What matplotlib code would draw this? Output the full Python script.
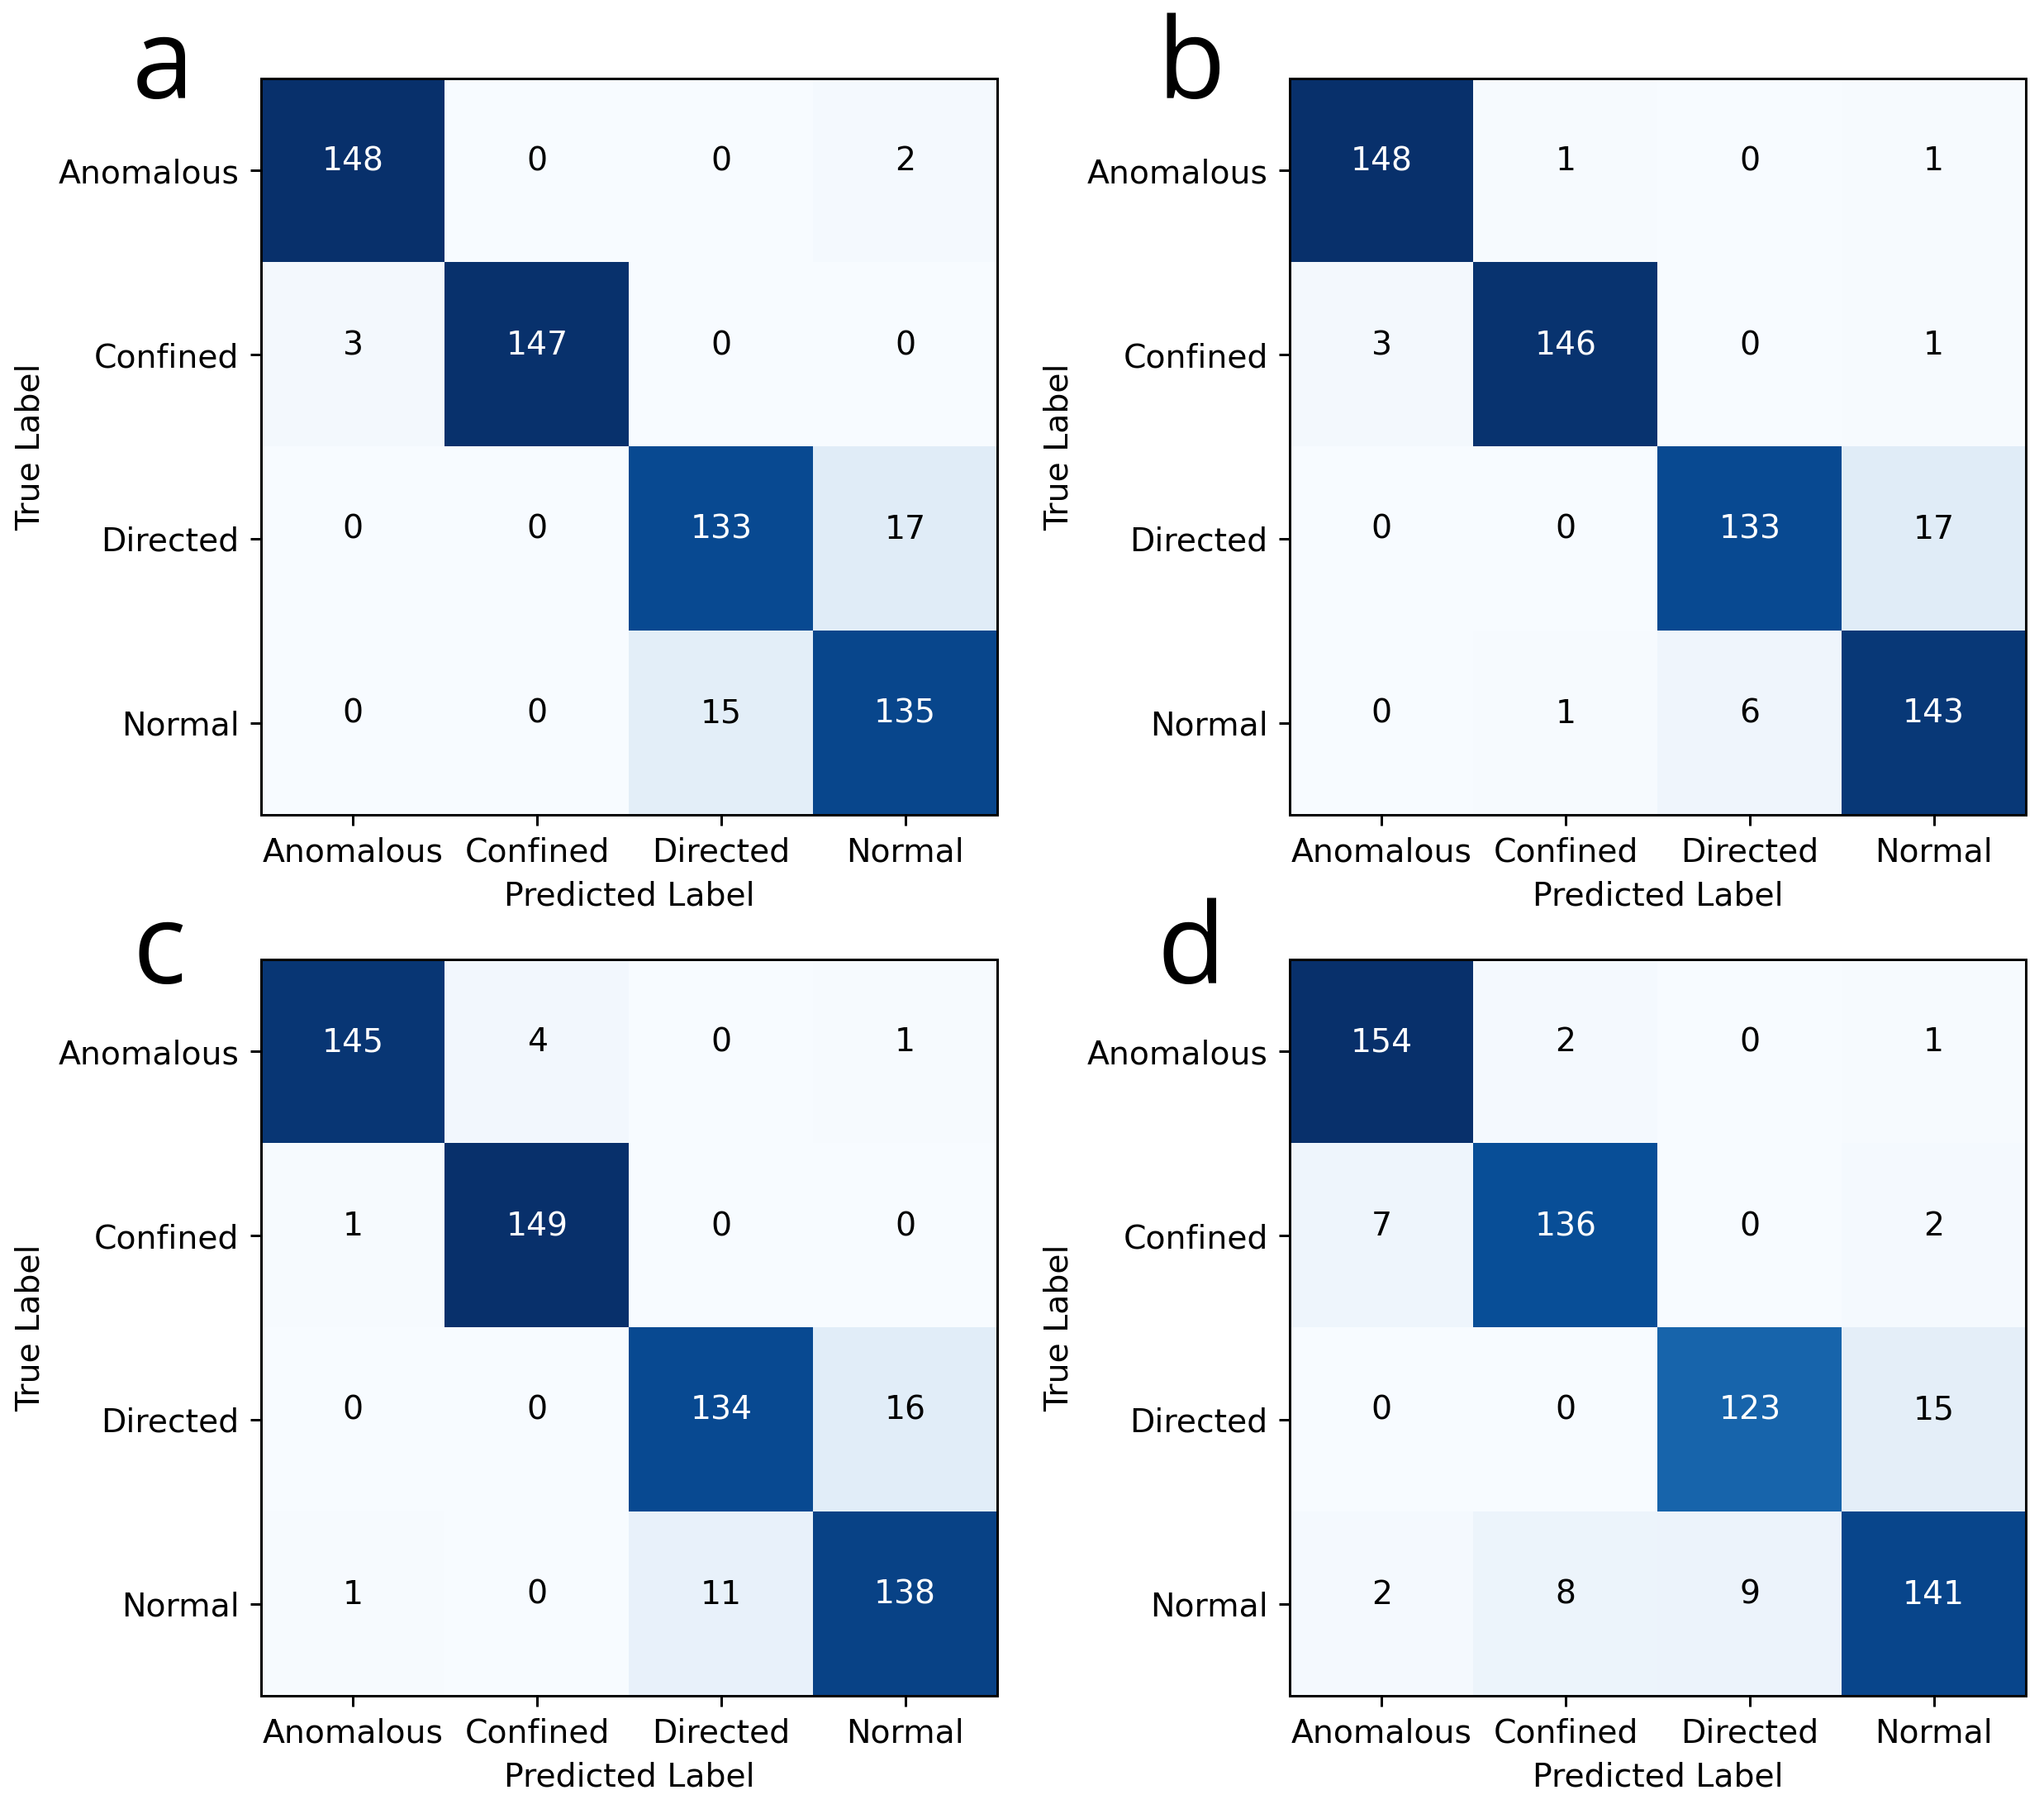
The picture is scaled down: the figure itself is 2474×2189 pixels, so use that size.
import matplotlib
matplotlib.use('Agg')
import matplotlib.pyplot as plt
import numpy as np

labels = ['Anomalous', 'Confined', 'Directed', 'Normal']

cm_a = [[148, 0, 0, 2],
        [3, 147, 0, 0],
        [0, 0, 133, 17],
        [0, 0, 15, 135]]

cm_b = [[148, 1, 0, 1],
        [3, 146, 0, 1],
        [0, 0, 133, 17],
        [0, 1, 6, 143]]

cm_c = [[145, 4, 0, 1],
        [1, 149, 0, 0],
        [0, 0, 134, 16],
        [1, 0, 11, 138]]

cm_d = [[154, 2, 0, 1],
        [7, 136, 0, 2],
        [0, 0, 123, 15],
        [2, 8, 9, 141]]

panels = ['a', 'b', 'c', 'd']
matrices = [cm_a, cm_b, cm_c, cm_d]

plt.rcParams['font.size'] = 10.5

W, H = 2474, 2189
DPI = 270
fig = plt.figure(figsize=(W / DPI, H / DPI), dpi=DPI)

# axes boxes in pixels: left, top
boxes = [(316, 95), (1561, 95), (316, 1161), (1561, 1161)]
size = 891
letter_pos = [(160, 119), (1400, 119), (160, 1190), (1400, 1190)]


def draw_cm(ax, cm):
    cm = np.array(cm)
    ax.imshow(cm, cmap='Blues', interpolation='nearest')
    thresh = (cm.max() + cm.min()) / 2.0
    for i in range(cm.shape[0]):
        for j in range(cm.shape[1]):
            color = 'white' if cm[i, j] > thresh else 'black'
            ax.text(j, i, str(cm[i, j]), ha='center', va='baseline',
                    color=color, fontsize=10.5)
    ax.set_xticks(range(len(labels)))
    ax.set_yticks(range(len(labels)))
    ax.set_xticklabels(labels)
    ax.set_yticklabels(labels)
    ax.set_xlabel('Predicted Label')
    ax.set_ylabel('True Label')


for (left, top), cm, letter, (lx, ly) in zip(boxes, matrices, panels, letter_pos):
    ax = fig.add_axes([left / W, 1 - (top + size) / H, size / W, size / H])
    draw_cm(ax, cm)
    fig.text(lx / W, 1 - ly / H, letter, fontsize=36, family='Open Sans',
             ha='left', va='baseline')

fig.savefig('out.png', dpi=DPI)
